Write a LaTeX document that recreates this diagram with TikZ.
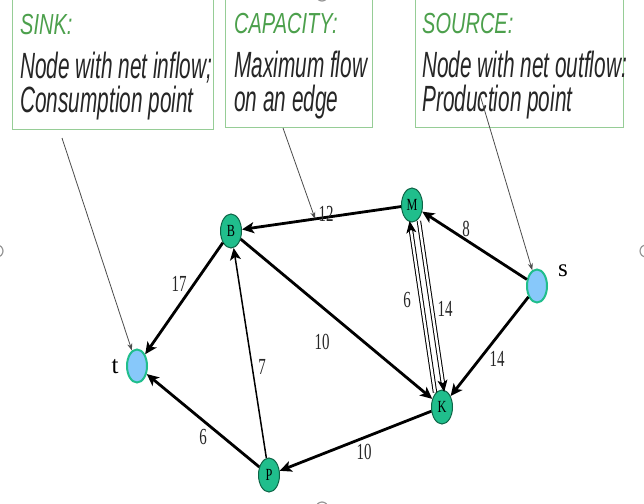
\documentclass[tikz,border=0pt]{standalone}
\usepackage{fontspec}
\setmainfont{Liberation Serif}
\newfontfamily\titlefont[FakeStretch=0.69]{Liberation Sans}
\newfontfamily\bodyfont[FakeStretch=0.57]{Liberation Sans}
\newfontfamily\numfont[FakeStretch=0.65]{Liberation Serif}
\newfontfamily\letfont[FakeStretch=0.72]{Liberation Serif}
\usetikzlibrary{arrows.meta,shapes.geometric,calc}
\definecolor{nodegreen}{RGB}{32,190,140}
\definecolor{nodeedge}{RGB}{14,100,70}
\definecolor{lblue}{RGB}{135,200,250}
\definecolor{titlegreen}{RGB}{76,160,76}
\definecolor{boxgreen}{RGB}{150,205,150}
\definecolor{handle}{RGB}{150,150,150}
\tikzset{
  vtx/.style={ellipse, draw=nodeedge, fill=nodegreen, line width=1pt, minimum width=21pt, minimum height=34pt, inner sep=0pt, font=\letfont\fontsize{17}{17}\selectfont},
  endvtx/.style={ellipse, draw=nodegreen, fill=lblue, line width=2pt, minimum width=20pt, minimum height=33pt, inner sep=0pt},
  edge/.style={draw=black, line width=2.8pt, -{Stealth[length=12pt,width=11pt,inset=3pt]}},
  thinedge/.style={draw=black, line width=1.5pt, -{Stealth[length=12pt,width=11pt,inset=3pt]}},
  dbledge/.style={draw=black, line width=1pt, double=white, double distance=2.4pt, -{Stealth[length=12pt,width=10pt,inset=3pt]}},
  ptr/.style={draw=black!70, line width=0.8pt, -{Stealth[length=7pt,width=5pt]}},
  num/.style={font=\numfont\fontsize{23}{23}\selectfont, text=black!85, inner sep=0pt},
  ttl/.style={font=\titlefont\itshape\fontsize{29}{29}\selectfont, text=titlegreen, anchor=base west, inner sep=0pt},
  body/.style={font=\bodyfont\itshape\fontsize{36.5}{36.5}\selectfont, text=black!85, anchor=base west, inner sep=0pt},
  infobox/.style={draw=boxgreen, line width=1.2pt, anchor=south west, inner sep=0pt},
  lbl/.style={font=\fontsize{25}{25}\selectfont, inner sep=0pt},
  hnd/.style={circle, draw=handle, line width=1.2pt, minimum size=12pt, inner sep=0pt}
}
\begin{document}
\begin{tikzpicture}[x=1pt,y=-1pt]
\useasboundingbox (0,0) rectangle (644,503);
\clip (0,0) rectangle (644,503);
\fill[white] (0,0) rectangle (644,503);

% boxes
\node[infobox, minimum width=201pt, minimum height=140pt] (sinkbox) at (12,130) {};
\node[infobox, minimum width=147pt, minimum height=140pt] (capbox) at (225,128) {};
\node[infobox, minimum width=208pt, minimum height=140pt] (srcbox) at (415,128) {};

\node[ttl] (sinkT) at (20,35) {SINK:};
\node[body] (sinkA) at (20,78) {Node with net inflow;};
\node[body] (sinkB) at (20,112) {Consumption point};

\node[ttl] (capT) at (234,34) {CAPACITY:};
\node[body] (capA) at (234,77) {Maximum flow};
\node[body] (capB) at (234,111) {on an edge};

\node[ttl] (srcT) at (422,34) {SOURCE:};
\node[body] (srcA) at (422,77) {Node with net outflow:};
\node[body] (srcB) at (422,111) {Production point};

% graph nodes
\node[vtx] (B) at (231,231) {B};
\node[vtx] (M) at (412,205) {M};
\node[vtx] (K) at (442,407) {K};
\node[vtx] (P) at (269,475) {P};
\node[endvtx] (s) at (537,286) {};
\node[endvtx] (t) at (137,366) {};
\node[lbl] (slbl) at (563,271) {s};
\node[lbl] (tlbl) at (115,367) {t};

% edges
\draw[edge] (M) -- (B);
\draw[edge] (s) -- (M);
\draw[edge] (B) -- (t);
\draw[edge] (B) -- (K);
\draw[thinedge] (P) -- (B);
\draw[edge] (P) -- (t);
\draw[edge] (K) -- (P);
\draw[edge] (s) -- (K);
\coordinate (kmA) at (435.0,392.5);
\coordinate (kmB) at (409.6,221.0);
\coordinate (mkA) at (418.9,221.0);
\coordinate (mkB) at (444.2,392.0);
\draw[dbledge] (kmA) -- (kmB);
\draw[dbledge] (mkA) -- (mkB);

% edge labels
\node[num] (l12) at (326,214) {12};
\node[num] (l8) at (466,229) {8};
\node[num] (l17) at (179,284) {17};
\node[num] (l10a) at (322,342) {10};
\node[num] (l6a) at (407,300) {6};
\node[num] (l14a) at (445,309) {14};
\node[num] (l7) at (262,367) {7};
\node[num] (l14b) at (497,359) {14};
\node[num] (l6b) at (203,437) {6};
\node[num] (l10b) at (364,452) {10};

% pointers
\coordinate (sinkstart) at (62,138);
\coordinate (capstart) at (283,128);
\coordinate (srcstart) at (480,95);
\coordinate (c12) at ($(M)!0.535!(B)$);
\draw[ptr] (sinkstart) -- (t);
\draw[ptr] (capstart) -- (c12);
\draw[ptr] (srcstart) -- (s);

% selection handles
\node[hnd] (h1) at (-3,251) {};
\node[hnd] (h2) at (646,251) {};
\node[hnd] (h3) at (322,508) {};
\node[hnd] (h4) at (322,-5) {};
\end{tikzpicture}
\end{document}
